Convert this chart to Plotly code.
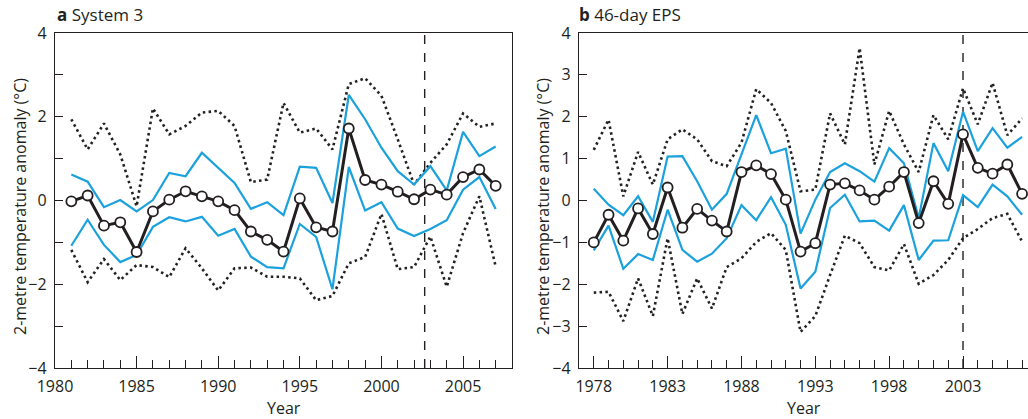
import plotly.graph_objects as go

# ---------- Panel a: System 3 ----------
years_a = list(range(1981, 2008))
mean_a = [-0.02, 0.12, -0.60, -0.52, -1.23, -0.26, 0.02, 0.22, 0.10, -0.02, -0.23, -0.74,
          -0.94, -1.22, 0.05, -0.64, -0.74, 1.72, 0.49, 0.38, 0.21, 0.03, 0.26, 0.14,
          0.56, 0.74, 0.35]
upper_a = [0.62, 0.45, -0.16, 0.01, -0.26, 0.01, 0.66, 0.58, 1.14, 0.78, 0.42, -0.20,
           -0.04, -0.35, 0.81, 0.78, -0.06, 2.52, 1.94, 1.26, 0.70, 0.38, 0.82, 0.24,
           1.64, 1.06, 1.29]
lower_a = [-1.08, -0.46, -1.06, -1.47, -1.30, -0.63, -0.40, -0.50, -0.39, -0.84, -0.68, -1.34,
           -1.59, -1.62, -0.56, -0.87, -2.12, 0.80, -0.24, -0.04, -0.67, -0.85, -0.68, -0.47,
           0.26, 0.56, -0.20]
max_a = [1.94, 1.22, 1.84, 1.10, -0.14, 2.20, 1.58, 1.78, 2.10, 2.14, 1.78, 0.44,
         0.50, 2.33, 1.62, 1.72, 1.22, 2.78, 2.92, 2.50, 1.46, 0.38, 0.90, 1.34,
         2.08, 1.76, 1.84]
min_a = [-1.18, -1.95, -1.40, -1.90, -1.54, -1.59, -1.83, -1.14, -1.62, -2.15, -1.62, -1.60,
         -1.82, -1.82, -1.86, -2.38, -2.28, -1.50, -1.35, -0.32, -1.64, -1.59, -0.86, -2.06,
         -0.78, 0.10, -1.58]
split_a = 2002.65

# ---------- Panel b: 46-day EPS ----------
years_b = list(range(1978, 2008))
mean_b = [-1.00, -0.34, -0.96, -0.19, -0.80, 0.31, -0.65, -0.20, -0.48, -0.74, 0.68, 0.84,
          0.63, 0.02, -1.22, -1.02, 0.38, 0.41, 0.24, 0.02, 0.33, 0.68, -0.54, 0.46,
          -0.08, 1.58, 0.78, 0.64, 0.86, 0.16]
upper_b = [0.28, -0.10, -0.35, 0.10, -0.51, 1.05, 1.06, 0.46, -0.22, 0.16, 1.10, 2.04,
           1.13, 1.24, -0.79, 0.02, 0.68, 0.89, 0.70, 0.45, 1.25, 0.89, -0.42, 1.37,
           0.70, 2.12, 1.18, 1.73, 1.26, 1.52]
lower_b = [-1.19, -0.60, -1.63, -1.28, -1.42, -0.22, -1.18, -1.46, -1.27, -0.90, -0.11, -0.47,
           0.08, -0.58, -2.10, -1.70, -0.18, 0.14, -0.50, -0.48, -0.72, -0.11, -1.42, -0.96,
           -0.95, 0.13, -0.16, 0.38, 0.10, -0.34]
max_b = [1.21, 1.93, 0.10, 1.16, 0.38, 1.46, 1.70, 1.46, 0.94, 0.82, 1.38, 2.66,
         2.33, 1.66, 0.22, 0.26, 2.08, 1.34, 3.64, 0.86, 2.14, 1.34, 0.68, 2.04,
         1.46, 2.68, 1.82, 2.81, 1.56, 1.96]
min_b = [-2.20, -2.18, -2.88, -1.86, -2.76, -0.90, -2.71, -1.86, -2.58, -1.59, -1.38, -0.99,
         -0.78, -1.18, -3.14, -2.76, -1.78, -0.84, -1.02, -1.59, -1.67, -1.04, -1.99, -1.78,
         -1.42, -0.90, -0.68, -0.42, -0.32, -0.98]
split_b = 2003.0

BLUE = "#1ba1dc"
FONT = "Open Sans"
INK = "#231f20"

fig = go.Figure()


def add_panel(xs, mean, up, lo, mx, mn, xa, ya):
    for vals in (mx, mn):
        fig.add_trace(go.Scatter(x=xs, y=vals, mode="lines", xaxis=xa, yaxis=ya,
                                 line=dict(color="#222222", width=2.6, dash="2.5px,3.3px"),
                                 showlegend=False, hoverinfo="skip"))
    for vals in (up, lo):
        fig.add_trace(go.Scatter(x=xs, y=vals, mode="lines", xaxis=xa, yaxis=ya,
                                 line=dict(color=BLUE, width=2.2),
                                 showlegend=False, hoverinfo="skip"))
    fig.add_trace(go.Scatter(x=xs, y=mean, mode="lines+markers", xaxis=xa, yaxis=ya,
                             line=dict(color=INK, width=3),
                             marker=dict(size=10, color="white",
                                         line=dict(color=INK, width=1.8)),
                             showlegend=False))


add_panel(years_a, mean_a, upper_a, lower_a, max_a, min_a, "x", "y")
add_panel(years_b, mean_b, upper_b, lower_b, max_b, min_b, "x2", "y2")

W, H = 1028, 419
ydom = [(H - 368) / H, (H - 33) / H]
xdom_a = [55 / W, 512 / W]
xdom_b = [579 / W, 1.0]

axis_common = dict(showline=True, linecolor=INK, linewidth=1.3, mirror=True,
                   ticks="inside", tickcolor=INK, tickwidth=1.2, automargin=False,
                   showgrid=False, zeroline=False,
                   tickfont=dict(family=FONT, size=16, color=INK))


def minor(t0):
    return dict(dtick=1, tick0=t0, ticklen=8, ticks="inside", tickcolor=INK, tickwidth=1.2)


fig.update_layout(
    width=W, height=H,
    margin=dict(l=0, r=0, t=0, b=0),
    plot_bgcolor="white", paper_bgcolor="white",
    xaxis=dict(domain=xdom_a, range=[1980, 2008], tickmode="linear", tick0=1980, dtick=5,
               ticklen=12, minor=minor(1980), ticklabelstandoff=4,
               anchor="y", **axis_common),
    yaxis=dict(domain=ydom, range=[-4, 4], tickmode="linear", tick0=-4, dtick=2,
               ticklen=8, minor=minor(-4), ticklabelstandoff=4,
               anchor="x", **axis_common),
    xaxis2=dict(domain=xdom_b, range=[1977, 2007.4], tickmode="linear", tick0=1978, dtick=5,
                ticklen=12, minor=minor(1978), ticklabelstandoff=4,
                anchor="y2", **axis_common),
    yaxis2=dict(domain=ydom, range=[-4, 4], tickmode="linear", tick0=-4, dtick=1,
                ticklen=8, ticklabelstandoff=4, anchor="x2", **axis_common),
    shapes=[
        dict(type="line", xref="x", yref="y domain", x0=split_a, x1=split_a, y0=0, y1=1,
             line=dict(color=INK, width=1.4, dash="dash"), layer="below"),
        dict(type="line", xref="x2", yref="y2 domain", x0=split_b, x1=split_b, y0=0, y1=1,
             line=dict(color=INK, width=1.4, dash="dash"), layer="below"),
    ],
    annotations=[
        dict(text="<b>a</b> System 3", x=55 / W, y=(H - 15) / H, xref="paper", yref="paper",
             xanchor="left", yanchor="middle", showarrow=False,
             font=dict(family=FONT, size=17, color=INK)),
        dict(text="<b>b</b> 46-day EPS", x=577 / W, y=(H - 15) / H, xref="paper", yref="paper",
             xanchor="left", yanchor="middle", showarrow=False,
             font=dict(family=FONT, size=17, color=INK)),
        dict(text="Year", x=(55 + 512) / 2 / W, y=(H - 408) / H, xref="paper", yref="paper",
             xanchor="center", yanchor="middle", showarrow=False,
             font=dict(family=FONT, size=16, color=INK)),
        dict(text="Year", x=(579 + 1028) / 2 / W, y=(H - 408) / H, xref="paper", yref="paper",
             xanchor="center", yanchor="middle", showarrow=False,
             font=dict(family=FONT, size=16, color=INK)),
        dict(text="2-metre temperature anomaly (°C)", x=20 / W, y=(H - 207) / H,
             xref="paper", yref="paper", xanchor="center", yanchor="middle",
             textangle=-90, showarrow=False,
             font=dict(family=FONT, size=16, color=INK)),
        dict(text="2-metre temperature anomaly (°C)", x=543 / W, y=(H - 207) / H,
             xref="paper", yref="paper", xanchor="center", yanchor="middle",
             textangle=-90, showarrow=False,
             font=dict(family=FONT, size=16, color=INK)),
    ],
)

fig.write_html("out.html")
